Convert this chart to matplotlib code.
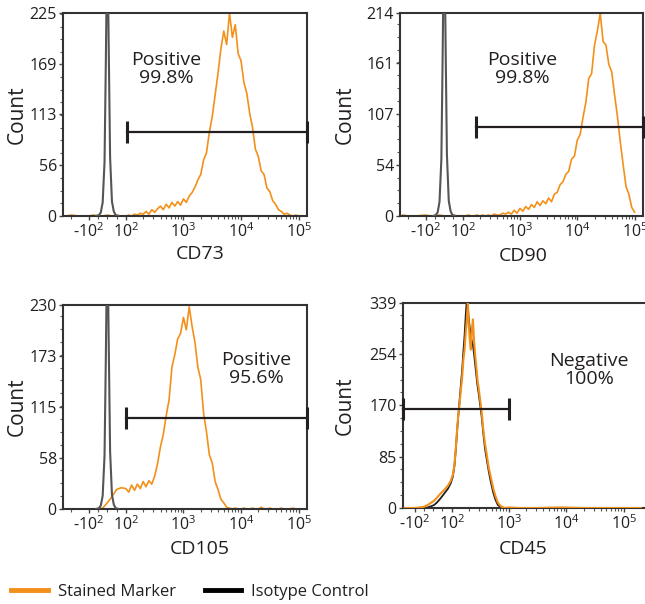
import matplotlib
matplotlib.use("Agg")
import matplotlib.pyplot as plt
from matplotlib.lines import Line2D
from matplotlib.ticker import AutoMinorLocator, FixedLocator
import numpy as np

plt.rcParams["font.family"] = ["Open Sans", "DejaVu Sans"]
plt.rcParams["mathtext.fontset"] = "custom"
plt.rcParams["mathtext.rm"] = "Open Sans"
plt.rcParams["mathtext.it"] = "Open Sans:italic"
plt.rcParams["mathtext.bf"] = "Open Sans:bold"

ORANGE = "#F39019"
DARK = "#231F20"

# channel positions (log10 of intensity) shared by the three positive markers
log_bins = [2.00, 2.05, 2.10, 2.15, 2.20, 2.25, 2.30, 2.35, 2.40, 2.45,
            2.50, 2.55, 2.60, 2.65, 2.70, 2.75, 2.80, 2.85, 2.90, 2.95,
            3.00, 3.05, 3.10, 3.15, 3.20, 3.25, 3.30, 3.35, 3.40, 3.45,
            3.50, 3.55, 3.60, 3.65, 3.70, 3.75, 3.80, 3.85, 3.90, 3.95,
            4.00, 4.05, 4.10, 4.15, 4.20, 4.25, 4.30, 4.35, 4.40, 4.45,
            4.50, 4.55, 4.60, 4.65, 4.70, 4.75, 4.80, 4.85, 4.90, 4.95,
            5.00]
# linear region below 10^2
low_x = [-250, -200, -150, -100, -75, -50, -25, 0, 25, 50, 75]

cd73_low = [0, 1, 0, 0, 1, 0, 0, 1, 0, 1, 0]
cd73_counts = [0, 1, 0, 2, 1, 3, 2, 5, 2, 7,
               4, 8, 11, 7, 13, 9, 15, 11, 16, 12,
               19, 15, 22, 26, 32, 40, 46, 62, 70, 93,
               110, 134, 158, 185, 205, 190, 225, 198, 212, 180,
               172, 148, 136, 114, 98, 74, 66, 50, 46, 31,
               27, 17, 13, 7, 5, 2, 3, 1, 0, 1,
               0]

cd90_low = [1, 0, 0, 1, 0, 0, 1, 0, 0, 1, 0]
cd90_counts = [0, 0, 1, 0, 0, 1, 0, 1, 0, 1,
               0, 2, 1, 1, 3, 2, 4, 2, 6, 3,
               8, 5, 10, 7, 12, 9, 15, 11, 16, 13,
               19, 15, 23, 25, 33, 36, 44, 47, 60, 63,
               80, 86, 104, 120, 145, 150, 180, 195, 214, 184,
               180, 160, 152, 128, 105, 78, 54, 31, 23, 9,
               4]

cd105_low = [0, 0, 0, 0, 0, 0, 1, 7, 14, 22, 24]
cd105_counts = [23, 19, 27, 21, 28, 23, 31, 25, 32, 28,
                37, 51, 70, 84, 105, 123, 160, 174, 192, 198,
                216, 202, 228, 206, 188, 160, 146, 108, 87, 61,
                52, 31, 22, 11, 7, 2, 1, 0, 1, 0,
                0, 1, 0, 0, 1, 0, 0, 2, 0, 0,
                1, 0, 0, 0, 1, 0, 0, 0, 1, 0,
                0]

# isotype control peak around zero (positive panels)
iso_x = [-60, -45, -35, -25, -15, -8, 0, 8, 15, 25, 35, 45, 60]
iso_counts = [0, 1, 4, 15, 60, 170, 320, 180, 65, 16, 5, 1, 0]

# CD45: stained and isotype overlap
cd45_x = [-150, -100, -75, -50, -30, -10, 5, 20, 40, 60,
          80, 95, 105, 112, 118, 124, 130, 137, 145, 152,
          160, 168, 176, 184, 192, 200, 208, 216, 225, 235,
          245, 256, 268, 282, 298, 315, 335, 355, 380, 410,
          445, 485, 530, 580, 640, 720, 850, 1000, 1500, 3000,
          8000, 20000, 60000, 200000]
cd45_counts = [0, 0, 1, 2, 5, 9, 12, 17, 24, 30,
               37, 45, 55, 72, 98, 128, 152, 170, 196, 214,
               245, 262, 290, 312, 339, 300, 276, 262, 295, 312,
               280, 255, 236, 212, 196, 178, 158, 131, 108, 88,
               66, 50, 33, 20, 9, 3, 0, 1, 0, 0,
               1, 0, 0, 0]
cd45_iso_counts = [0, 0, 0, 0, 1, 3, 5, 9, 16, 24,
                   32, 41, 52, 70, 96, 125, 150, 176, 204, 226,
                   258, 285, 318, 345, 330, 310, 296, 284, 276, 270,
                   256, 240, 222, 203, 188, 170, 150, 125, 100, 80,
                   60, 42, 26, 14, 5, 1, 0, 0, 0, 0,
                   0, 0, 0, 0]

markers = ["CD73", "CD90", "CD105", "CD45"]
y_ticks = [[0, 56, 113, 169, 225],
           [0, 54, 107, 161, 214],
           [0, 58, 115, 173, 230],
           [0, 85, 170, 254, 339]]
x_ticks = [-100, 100, 1000, 10000, 100000]
x_tick_labels = ["-$\\mathregular{10^{2}}$", "$\\mathregular{10^{2}}$",
                 "$\\mathregular{10^{3}}$", "$\\mathregular{10^{4}}$",
                 "$\\mathregular{10^{5}}$"]
x_limits = [(-280, 1.4e5), (-280, 1.4e5), (-280, 1.4e5), (-160, 4.3e5)]
gate_lo = [105, 170, 100, -160]
gate_hi = [1.4e5, 1.4e5, 1.4e5, 1000]
gate_y = [93, 94, 103, 164]
notes = ["Positive\n99.8%", "Positive\n99.8%", "Positive\n95.6%", "Negative\n100%"]

# layout (figure fractions) and text anchors (axes fractions)
positions = [[0.0977, 0.6424, 0.3783, 0.3361],
             [0.6202, 0.6424, 0.3767, 0.3361],
             [0.0977, 0.1573, 0.3783, 0.3377],
             [0.6248, 0.1589, 0.3984, 0.3394]]
note_xy = [(0.422, 0.724), (0.502, 0.724), (0.791, 0.686), (0.724, 0.673)]
ylabel_x = [-0.189, -0.226, -0.189, -0.226]
xlabel_xy = [(0.56, -0.187), (0.506, -0.197), (0.56, -0.196), (0.467, -0.202)]


def style_axes(ax, idx):
    """Spines, symlog x scale and ticks for one histogram panel."""
    ax.set_xscale("symlog", linthresh=100, linscale=0.29, base=10)
    ax.set_xlim(x_limits[idx])
    ax.set_ylim(0, y_ticks[idx][-1])
    ax.set_xticks(x_ticks)
    ax.set_xticklabels(x_tick_labels)
    minor = [-200, -50, 0, 50] + [k * 10 ** n for n in (2, 3, 4) for k in range(2, 10)]
    ax.xaxis.set_minor_locator(FixedLocator(minor))
    ax.set_yticks(y_ticks[idx])
    ax.set_yticklabels([str(v) for v in y_ticks[idx]])
    ax.yaxis.set_minor_locator(AutoMinorLocator(4))
    ax.tick_params(which="major", direction="out", length=3, width=1,
                   colors="#444444", labelcolor=DARK, labelsize=11.5, pad=1.5)
    ax.tick_params(which="minor", direction="out", length=2, width=0.8,
                   colors="#555555")
    for s in ["top", "right", "bottom", "left"]:
        ax.spines[s].set_linewidth(1.5)
        ax.spines[s].set_color("#333333")
    ax.set_ylabel("Count", fontsize=15, color=DARK)
    ax.yaxis.set_label_coords(ylabel_x[idx], 0.5)
    ax.yaxis.label.set_ha("center")
    ax.yaxis.label.set_va("center")
    ax.set_xlabel(markers[idx], fontsize=14, color=DARK)
    ax.xaxis.set_label_coords(*xlabel_xy[idx])
    ax.xaxis.label.set_va("center")


def draw_gate(ax, idx):
    ax.plot([gate_lo[idx], gate_hi[idx]], [gate_y[idx], gate_y[idx]],
            color=DARK, lw=1.6, clip_on=False, zorder=5)
    ax.plot([gate_lo[idx], gate_hi[idx]], [gate_y[idx], gate_y[idx]],
            ls="none", marker="|", markersize=16, mew=2.2, color=DARK,
            clip_on=False, zorder=5)


fig = plt.figure(figsize=(6.45, 6.04), dpi=100)
stained = [(cd73_low, cd73_counts), (cd90_low, cd90_counts), (cd105_low, cd105_counts)]

for idx in range(4):
    ax = fig.add_axes(positions[idx])
    if idx < 3:
        low, counts = stained[idx]
        x = list(low_x) + list(10 ** np.array(log_bins))
        y = list(low) + list(counts)
        ax.plot(iso_x, iso_counts, color="#555555", lw=1.5, zorder=3)
        ax.plot(x, y, color=ORANGE, lw=1.2, zorder=2)
    else:
        ax.plot(cd45_x, cd45_iso_counts, color=DARK, lw=1.3, zorder=2)
        ax.plot(cd45_x, cd45_counts, color=ORANGE, lw=1.5, zorder=3)
    style_axes(ax, idx)
    draw_gate(ax, idx)
    ax.text(*note_xy[idx], notes[idx], transform=ax.transAxes, ha="center",
            va="center", fontsize=14, color=DARK, linespacing=1.0)

handles = [Line2D([], [], color=ORANGE, lw=3.5),
           Line2D([], [], color="black", lw=3.5)]
fig.legend(handles, ["Stained Marker", "Isotype Control"], loc="center left",
           bbox_to_anchor=(0.004, 1 - 592 / 604), ncol=2, frameon=False,
           fontsize=12, handlelength=2.2, handletextpad=0.6,
           columnspacing=1.75, borderaxespad=0.1, labelcolor=DARK)

fig.savefig("out.png", dpi=100)
